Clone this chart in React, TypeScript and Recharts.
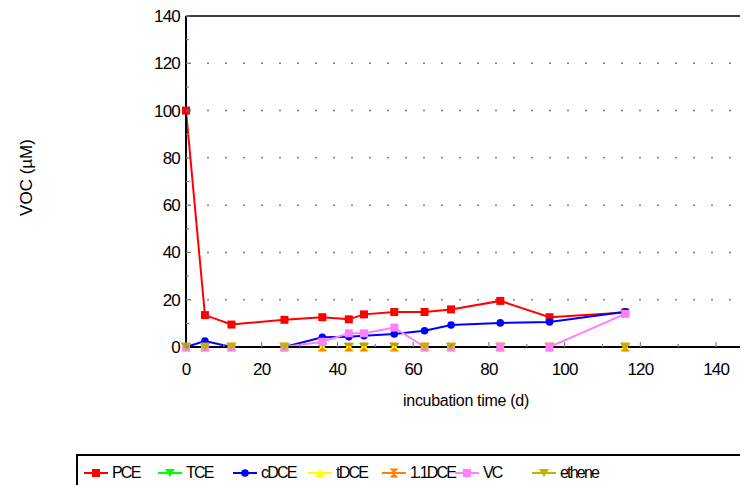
import React from 'react';
import { LineChart, Line, XAxis, YAxis, ReferenceLine, Label } from 'recharts';

// sampling days (d)
const DAYS: number[] = [0, 5, 12, 26, 36, 43, 47, 55, 63, 70, 83, 96, 116];

// concentrations (µM)
const PCE: number[] = [100, 13.5, 9.5, 11.5, 12.6, 11.7, 13.8, 14.8, 14.8, 15.9, 19.5, 12.6, 14.6];
const TCE: number[] = [0, 0, 0, 0, 0, 0, 0, 0, 0, 0, 0, 0, 0];
const CDCE: number[] = [0, 2.5, 0, 0, 4.1, 4.3, 4.8, 5.5, 6.9, 9.3, 10.2, 10.6, 14.9];
const TDCE: number[] = [0, 0, 0, 0, 0, 0, 0, 0, 0, 0, 0, 0, 0];
const DCE11: number[] = [0, 0, 0, 0, 0, 0, 0, 0, 0, 0, 0, 0, 0];
const VC: number[] = [0, 0, 0, 0, 2.2, 5.8, 5.8, 8.2, 0, 0, 0, 0, 14];
const ETHENE: (number | null)[] = [0, 0, 0, 0, null, null, null, null, 0, 0, null, null, 0];

const X_TICKS: number[] = [0, 10, 20, 30, 40, 50, 60, 70, 80, 90, 100, 110, 120, 130, 140];
const Y_TICKS: number[] = [0, 10, 20, 30, 40, 50, 60, 70, 80, 90, 100, 110, 120, 130, 140];
const GRID_Y: number[] = [20, 40, 60, 80, 100, 120];

type Shape = 'square' | 'down' | 'up' | 'circle' | 'hourglass';

const SERIES: { key: string; name: string; color: string; shape: Shape; values: (number | null)[] }[] = [
  { key: 'pce', name: 'PCE', color: '#ff0000', shape: 'square', values: PCE },
  { key: 'tce', name: 'TCE', color: '#00ff00', shape: 'down', values: TCE },
  { key: 'cdce', name: 'cDCE', color: '#0000ff', shape: 'circle', values: CDCE },
  { key: 'tdce', name: 'tDCE', color: '#ffff00', shape: 'up', values: TDCE },
  { key: 'dce11', name: '1.1DCE', color: '#ff8000', shape: 'hourglass', values: DCE11 },
  { key: 'vc', name: 'VC', color: '#ff80ff', shape: 'square', values: VC },
  { key: 'ethene', name: 'ethene', color: '#b8b800', shape: 'down', values: ETHENE },
];

// legend item left edges (page px)
const LEGEND_LEFT = [84, 158, 233, 308, 382, 455, 532];

const data = DAYS.map((day, i) => {
  const row: Record<string, number | null> = { day };
  SERIES.forEach((s) => {
    row[s.key] = s.values[i];
  });
  return row;
});

const Marker = ({ shape, color, cx, cy }: { shape: Shape; color: string; cx: number; cy: number }) => {
  switch (shape) {
    case 'square':
      return <rect x={cx - 4} y={cy - 4} width={8} height={8} fill={color} />;
    case 'circle':
      return <circle cx={cx} cy={cy} r={3.8} fill={color} />;
    case 'down':
      return <polygon points={`${cx - 5},${cy - 4} ${cx + 5},${cy - 4} ${cx},${cy + 4}`} fill={color} />;
    case 'up':
      return <polygon points={`${cx - 5},${cy + 4} ${cx + 5},${cy + 4} ${cx},${cy - 4}`} fill={color} />;
    default:
      return (
        <polygon
          points={`${cx - 4.5},${cy - 4.5} ${cx + 4.5},${cy - 4.5} ${cx - 4.5},${cy + 4.5} ${cx + 4.5},${cy + 4.5}`}
          fill={color}
        />
      );
  }
};

const makeDot = (shape: Shape, color: string, name: string) => (props: any) => {
  const { cx, cy, index, value } = props;
  if (value == null || cx == null || cy == null) return <g key={`${name}-${index}`} />;
  return (
    <g key={`${name}-${index}`}>
      <Marker shape={shape} color={color} cx={cx} cy={cy} />
    </g>
  );
};

const tickFont = { fontSize: 17, fill: '#000', letterSpacing: -0.8 };

const XTick = (props: any) => {
  const { x, y, payload } = props;
  const major = payload.value % 20 === 0;
  return (
    <g>
      <line x1={x} x2={x} y1={y} y2={y - (major ? 5 : 3)} stroke="#808080" strokeWidth={1.2} />
      {major && (
        <text x={x} y={y + 28} textAnchor="middle" style={tickFont}>
          {payload.value}
        </text>
      )}
    </g>
  );
};

const YTick = (props: any) => {
  const { x, y, payload } = props;
  const major = payload.value % 20 === 0;
  return (
    <g>
      <line x1={x} x2={x + 3} y1={y} y2={y} stroke="#808080" strokeWidth={1.2} />
      {major && (
        <text x={x - 6} y={y + 6} textAnchor="end" style={tickFont}>
          {payload.value}
        </text>
      )}
    </g>
  );
};

const ChartLegend = () => (
  <div
    style={{
      position: 'absolute',
      left: 68,
      top: 446,
      width: 700,
      height: 60,
      borderLeft: '2px solid #000',
      borderTop: '2px solid #000',
    }}
  >
    {SERIES.map((s, i) => (
      <div
        key={s.key}
        style={{
          position: 'absolute',
          left: LEGEND_LEFT[i] - 78,
          top: 8,
          display: 'flex',
          alignItems: 'center',
          fontSize: 16,
          letterSpacing: -1.8,
          whiteSpace: 'nowrap',
        }}
      >
        <svg width={24} height={12} style={{ marginRight: 4 }}>
          <line x1={0} x2={24} y1={6} y2={6} stroke={s.color} strokeWidth={2} />
          <Marker shape={s.shape} color={s.color} cx={12} cy={6} />
        </svg>
        <span>{s.name}</span>
      </div>
    ))}
  </div>
);

const App: React.FC = () => {
  return (
    <div
      style={{
        position: 'relative',
        width: 740,
        height: 477,
        overflow: 'hidden',
        fontFamily: '"Liberation Sans", Arial, sans-serif',
      }}
    >
      <LineChart width={760} height={477} data={data} margin={{ top: 8, right: 14, left: 0, bottom: 108 }}>
        {GRID_Y.map((v) => (
          <ReferenceLine
            key={v}
            y={v}
            stroke="#808080"
            strokeWidth={1.5}
            strokeDasharray="2 16"
            strokeDashoffset={-3}
          />
        ))}
        <ReferenceLine y={140} stroke="#000" strokeWidth={1.5} />
        <XAxis
          dataKey="day"
          type="number"
          domain={[0, 150]}
          ticks={X_TICKS}
          interval={0}
          tickSize={0}
          tickMargin={0}
          tick={<XTick />}
          axisLine={{ stroke: '#000', strokeWidth: 2 }}
          tickLine={false}
          height={30}
        >
          <Label
            value="incubation time (d)"
            position="center"
            dx={-4}
            dy={38}
            style={{ fontSize: 16, fill: '#000', letterSpacing: -0.3 }}
          />
        </XAxis>
        <YAxis
          type="number"
          domain={[0, 140]}
          ticks={Y_TICKS}
          interval={0}
          tickSize={0}
          tickMargin={0}
          tick={<YTick />}
          axisLine={{ stroke: '#000', strokeWidth: 2 }}
          tickLine={false}
          width={178}
        >
          <Label
            value="VOC (µM)"
            position="center"
            angle={-90}
            dx={-71}
            dy={-4}
            style={{ fontSize: 17, fill: '#000', letterSpacing: 0 }}
          />
        </YAxis>
        {SERIES.map((s) => (
          <Line
            key={s.key}
            dataKey={s.key}
            name={s.name}
            stroke={s.color}
            strokeWidth={2}
            dot={makeDot(s.shape, s.color, s.key)}
            activeDot={false}
            connectNulls={false}
            isAnimationActive={false}
          />
        ))}
      </LineChart>
      <ChartLegend />
    </div>
  );
};

export default App;
